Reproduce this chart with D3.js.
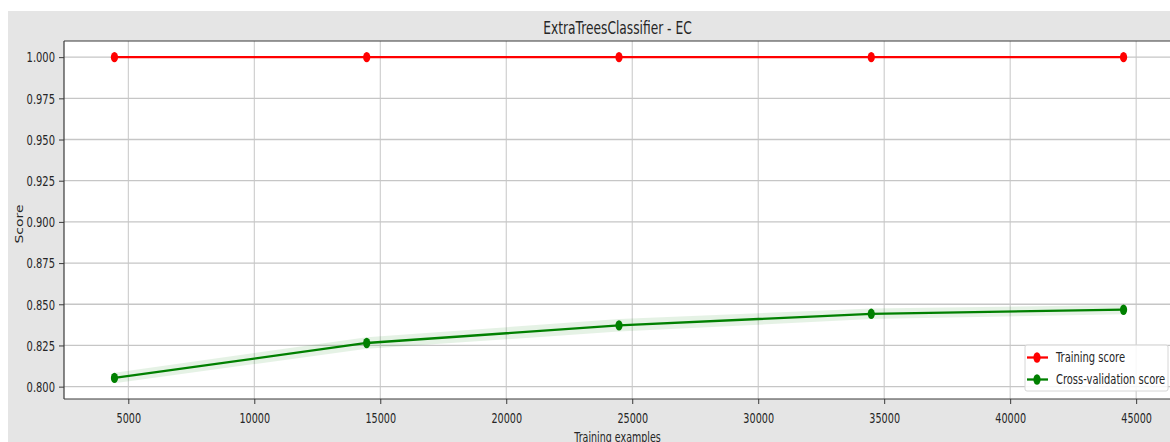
<!DOCTYPE html>
<html>
<head>
<meta charset="utf-8">
<script src="https://cdn.jsdelivr.net/npm/d3@7"></script>
<style>
  html, body { margin: 0; padding: 0; background: #ffffff; }
  svg { display: block; }
  text { font-family: "DejaVu Sans", sans-serif; fill: #262626; }
</style>
</head>
<body>
<svg id="chart" width="1170" height="442"></svg>
<script>
// Learning curve: training vs cross-validation score
const chartTitle = "ExtraTreesClassifier - EC";
const xLabel = "Training examples";
const yLabel = "Score";
const trainSizes = [4450, 14462, 24475, 34487, 44500];
const trainMean = [1.0, 1.0, 1.0, 1.0, 1.0];
const trainStd = [0.0, 0.0, 0.0, 0.0, 0.0];
const cvMean = [0.8053, 0.8265, 0.8372, 0.8442, 0.8467];
const cvStd = [0.0032, 0.0035, 0.0038, 0.0032, 0.0028];
const xTicks = [5000, 10000, 15000, 20000, 25000, 30000, 35000, 40000, 45000];
const yTicks = [0.800, 0.825, 0.850, 0.875, 0.900, 0.925, 0.950, 0.975, 1.000];
const legendLabels = ["Training score", "Cross-validation score"];
const seriesColors = ["#ff0000", "#008000"];

const svg = d3.select("#chart");

// narrow a text element horizontally around its anchor point
function squish(sel, f) {
  sel.each(function () {
    const t = d3.select(this);
    const ax = +t.attr("x") || 0, ay = +t.attr("y") || 0;
    t.attr("transform", `translate(${ax},${ay}) scale(${f},1) translate(${-ax},${-ay})`);
  });
}

// figure background
svg.append("rect").attr("x", 8).attr("y", 11).attr("width", 1170).attr("height", 442)
  .attr("fill", "#e5e5e5");

const plot = { left: 64, top: 41, right: 1174, bottom: 399 };

const x = d3.scaleLinear().domain([2447.5, 46502.5]).range([plot.left, plot.right]);
const y = d3.scaleLinear().domain([0.7925, 1.0098]).range([plot.bottom, plot.top]);

// axes area
svg.append("rect").attr("x", plot.left).attr("y", plot.top)
  .attr("width", plot.right - plot.left).attr("height", plot.bottom - plot.top)
  .attr("fill", "#ffffff");

// grid
const grid = svg.append("g");
grid.selectAll("line.gx").data(xTicks).join("line")
  .attr("x1", d => x(d)).attr("x2", d => x(d))
  .attr("y1", plot.top).attr("y2", plot.bottom)
  .attr("stroke", "#c6c6c6").attr("stroke-width", 1);
grid.selectAll("line.gy").data(yTicks).join("line")
  .attr("x1", plot.left).attr("x2", plot.right)
  .attr("y1", d => y(d)).attr("y2", d => y(d))
  .attr("stroke", "#c6c6c6").attr("stroke-width", 1.3);

// std bands
const area = d3.area()
  .x((d, i) => x(trainSizes[i]))
  .y0(d => y(d[0] - d[1]))
  .y1(d => y(d[0] + d[1]));
svg.append("path").datum(trainMean.map((m, i) => [m, trainStd[i]]))
  .attr("d", area).attr("fill", seriesColors[0]).attr("fill-opacity", 0.1);
svg.append("path").datum(cvMean.map((m, i) => [m, cvStd[i]]))
  .attr("d", area).attr("fill", seriesColors[1]).attr("fill-opacity", 0.1);

// lines + markers
const line = d3.line().x((d, i) => x(trainSizes[i])).y(d => y(d));
[trainMean, cvMean].forEach((vals, k) => {
  svg.append("path").datum(vals).attr("d", line)
    .attr("fill", "none").attr("stroke", seriesColors[k]).attr("stroke-width", 2.3);
  svg.selectAll(null).data(vals).join("ellipse")
    .attr("cx", (d, i) => x(trainSizes[i])).attr("cy", d => y(d))
    .attr("rx", 3.6).attr("ry", 5.2).attr("fill", seriesColors[k]);
});

// spines (top, left, bottom)
const spine = svg.append("g").attr("stroke", "#3a3a3a").attr("stroke-width", 1.2);
spine.append("line").attr("x1", plot.left).attr("x2", plot.right).attr("y1", plot.top).attr("y2", plot.top);
spine.append("line").attr("x1", plot.left).attr("x2", plot.right).attr("y1", plot.bottom).attr("y2", plot.bottom);
spine.append("line").attr("x1", plot.left).attr("x2", plot.left).attr("y1", plot.top).attr("y2", plot.bottom);

// axes
const xAxis = d3.axisBottom(x).tickValues(xTicks).tickFormat(d3.format("d")).tickSize(5);
const yAxis = d3.axisLeft(y).tickValues(yTicks).tickFormat(d3.format(".3f")).tickSize(5);
const gx = svg.append("g").attr("transform", `translate(0,${plot.bottom})`).call(xAxis);
const gy = svg.append("g").attr("transform", `translate(${plot.left},0)`).call(yAxis);
[gx, gy].forEach(g => {
  g.select(".domain").remove();
  g.selectAll(".tick line").attr("stroke", "#3a3a3a").attr("stroke-width", 1);
  g.selectAll(".tick text").attr("font-size", 14).style("fill", "#262626")
    .attr("font-family", "'DejaVu Sans', sans-serif");
});
gx.selectAll(".tick text").attr("x", 0).attr("y", 24.4).attr("dy", 0);
gy.selectAll(".tick text").attr("x", -9).attr("y", 0).attr("dy", "0.34em");
squish(gx.selectAll(".tick text"), 0.69);
squish(gy.selectAll(".tick text"), 0.71);

// title and axis labels
const cx = (plot.left + plot.right) / 2 - 1.5;
svg.append("text").attr("x", cx).attr("y", 34.5)
  .attr("text-anchor", "middle").attr("font-size", 17).text(chartTitle)
  .call(squish, 0.72);
svg.append("text").attr("x", cx).attr("y", 442)
  .attr("text-anchor", "middle").attr("font-size", 14).text(xLabel)
  .call(squish, 0.68);
svg.append("text")
  .attr("transform", `translate(23,224) scale(0.72,1) rotate(-90)`)
  .attr("text-anchor", "middle").attr("font-size", 14).text(yLabel);

// legend
const lg = svg.append("g").attr("transform", "translate(1025,345)");
lg.append("rect").attr("width", 143).attr("height", 46).attr("rx", 2)
  .attr("fill", "#ffffff").attr("fill-opacity", 0.85).attr("stroke", "#d6d6d6");
legendLabels.forEach((lab, i) => {
  const yy = 12.5 + i * 22;
  lg.append("line").attr("x1", 2).attr("x2", 23).attr("y1", yy).attr("y2", yy)
    .attr("stroke", seriesColors[i]).attr("stroke-width", 2.3);
  lg.append("ellipse").attr("cx", 12).attr("cy", yy).attr("rx", 3.6).attr("ry", 5.2)
    .attr("fill", seriesColors[i]);
  lg.append("text").attr("x", 31).attr("y", yy + 5).attr("font-size", 14).text(lab)
    .call(squish, 0.71);
});
</script>
</body>
</html>
